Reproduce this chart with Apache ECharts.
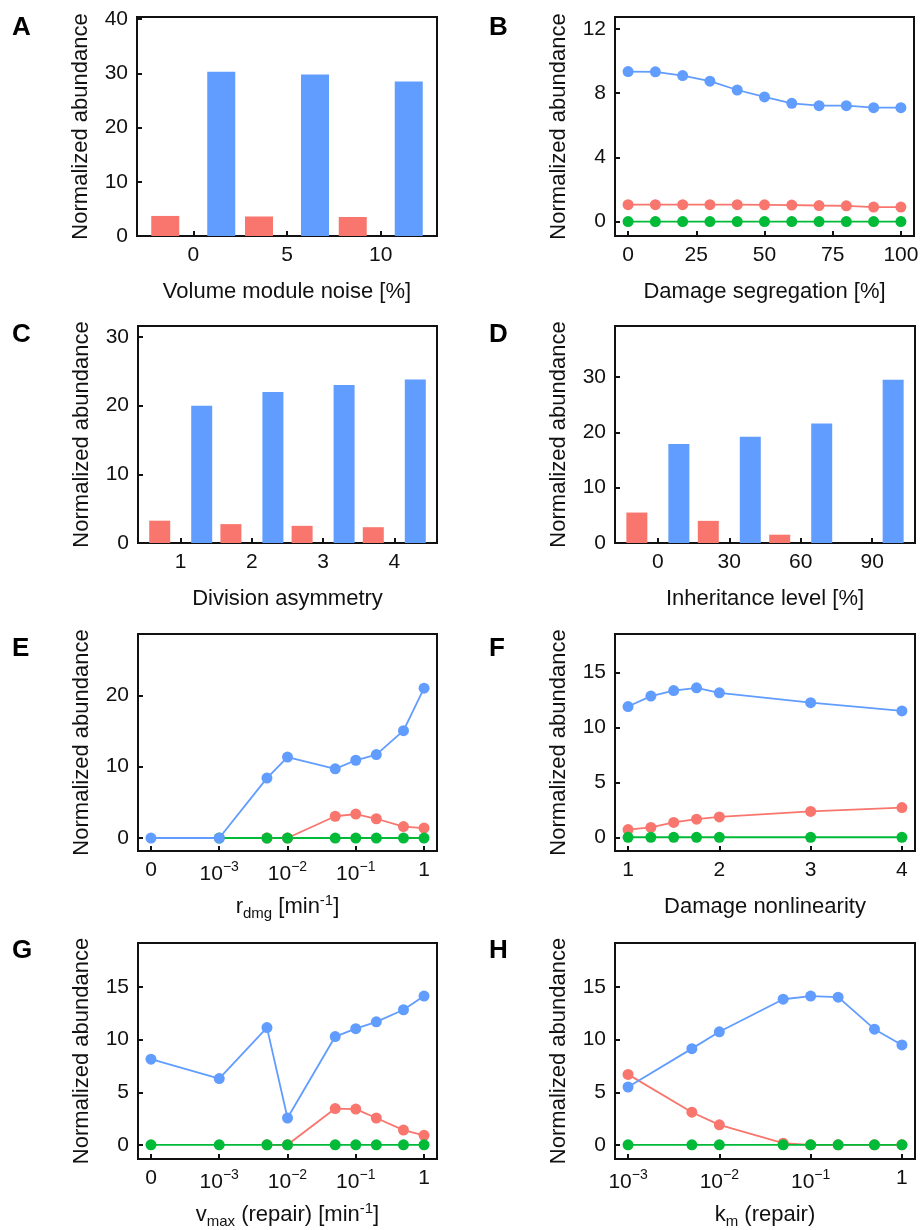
<!DOCTYPE html>
<html>
<head>
<meta charset="utf-8">
<script src="https://cdn.jsdelivr.net/npm/echarts@6/dist/echarts.min.js"></script>
<style>
html, body { margin: 0; padding: 0; background: #fff; }
#chart { width: 922px; height: 1230px; }
</style>
</head>
<body>
<div id="chart"></div>
<script>
var RED = '#F8766D', BLUE = '#619CFF', GREEN = '#00BA38';
var FONT = 'Liberation Sans';
var INK = '#111';

// A - volume module noise
var noiseLevels = [0, 5, 10];
var noiseRed = [3.7, 3.6, 3.5];
var noiseBlue = [30.3, 29.8, 28.5];
var noiseTicks = [0, 5, 10];

// B - damage segregation
var segregation = [0, 10, 20, 30, 40, 50, 60, 70, 80, 90, 100];
var segBlue = [9.35, 9.33, 9.1, 8.75, 8.2, 7.77, 7.37, 7.22, 7.22, 7.1, 7.1];
var segRed = [1.05, 1.05, 1.05, 1.05, 1.05, 1.04, 1.03, 1.0, 0.98, 0.9, 0.9];
var segGreen = [0, 0, 0, 0, 0, 0, 0, 0, 0, 0, 0];
var segTicks = [0, 25, 50, 75, 100];

// C - division asymmetry
var asymmetry = [1, 2, 3, 4];
var asymRed = [3.25, 2.75, 2.5, 2.3];
var asymBlue = [20.0, 22.0, 23.0, 23.8];

// D - inheritance level
var inheritance = [0, 30, 60, 90];
var inhRed = [5.5, 4.0, 1.5, 0];
var inhBlue = [17.9, 19.2, 21.6, 29.5];

// E - r_dmg
var rDmg = [0, 0.001, 0.005, 0.01, 0.05, 0.1, 0.2, 0.5, 1];
var rDmgBlue = [0, 0, 8.4, 11.35, 9.7, 10.9, 11.7, 15.05, 21.0];
var rDmgRed = [null, null, 0, 0, 3.05, 3.35, 2.7, 1.6, 1.4];
var rDmgGreen = [null, 0, 0, 0, 0, 0, 0, 0, 0];

// F - damage nonlinearity
var nonlin = [1, 1.25, 1.5, 1.75, 2, 3, 4];
var nonlinBlue = [11.9, 12.85, 13.35, 13.6, 13.15, 12.25, 11.5];
var nonlinRed = [0.7, 0.9, 1.35, 1.65, 1.85, 2.35, 2.7];
var nonlinGreen = [0, 0, 0, 0, 0, 0, 0];

// G - vmax (repair)
var vmax = [0, 0.001, 0.005, 0.01, 0.05, 0.1, 0.2, 0.5, 1];
var vmaxBlue = [8.15, 6.3, 11.15, 2.55, 10.3, 11.05, 11.7, 12.85, 14.15];
var vmaxRed = [null, null, 0, 0, 3.45, 3.4, 2.55, 1.4, 0.9];
var vmaxGreen = [0, 0, 0, 0, 0, 0, 0, 0, 0];

// H - km (repair)
var km = [0.001, 0.005, 0.01, 0.05, 0.1, 0.2, 0.5, 1];
var kmBlue = [5.5, 9.15, 10.75, 13.85, 14.15, 14.05, 11.0, 9.5];
var kmRed = [6.7, 3.1, 1.9, 0.15, 0, 0, 0, 0];
var kmGreen = [0, 0, 0, 0, 0, 0, 0, 0];

var logTicksZero = [-4, -3, -2, -1, 0];
var logTicks = [-3, -2, -1, 0];

// 0 is drawn one decade left of 10^-3
function logPos(v) { return v === 0 ? -4 : Math.log10(v); }
function logLabel(v) {
    if (v === -4) return '0';
    if (v === 0) return '1';
    return '{b|10}{s|\u2212' + (-v) + '}';
}

var tickRich = {
    b: { fontSize: 21, fontFamily: FONT, color: INK, lineHeight: 25, verticalAlign: 'bottom' },
    s: { fontSize: 14, fontFamily: FONT, color: INK, lineHeight: 14, verticalAlign: 'top' }
};
var nameRich = {
    sub: { fontSize: 15, fontFamily: FONT, color: INK, lineHeight: 15, verticalAlign: 'bottom' },
    sup: { fontSize: 15, fontFamily: FONT, color: INK, lineHeight: 15, verticalAlign: 'top' }
};

var grids = [], xAxes = [], yAxes = [], series = [];

function axis(min, max, ticks, fmt) {
    return {
        type: 'value', min: min, max: max,
        axisLine: { show: true, onZero: false, lineStyle: { color: INK, width: 2 } },
        axisTick: { show: true, inside: true, length: 5, customValues: ticks, lineStyle: { color: INK, width: 2 } },
        axisLabel: { customValues: ticks, formatter: fmt, color: INK, fontSize: 21, fontFamily: FONT, rich: tickRich },
        splitLine: { show: false }
    };
}

function addPanel(box, xr, xTicks, xFmt, xName, yr, yTicks, list) {
    var gi = grids.length;
    grids.push({ left: box[0], top: box[1], width: box[2], height: box[3],
        show: true, borderColor: INK, borderWidth: 2 });
    var xa = axis(xr[0], xr[1], xTicks, xFmt);
    xa.gridIndex = gi;
    xa.position = 'bottom';
    xa.axisLabel.margin = 9;
    xa.name = xName;
    xa.nameLocation = 'middle';
    xa.nameGap = 42;
    xa.nameTextStyle = { fontSize: 22, fontFamily: FONT, color: INK, lineHeight: 28, rich: nameRich };
    xAxes.push(xa);
    var ya = axis(yr[0], yr[1], yTicks, function (v) { return String(v); });
    ya.gridIndex = gi;
    ya.position = 'left';
    ya.axisLabel.margin = 9;
    ya.name = 'Normalized abundance';
    ya.nameLocation = 'middle';
    ya.nameGap = 45;
    ya.nameTextStyle = { fontSize: 22, fontFamily: FONT, color: INK };
    yAxes.push(ya);
    list.forEach(function (s) {
        s.xAxisIndex = gi;
        s.yAxisIndex = gi;
        series.push(s);
    });
}

function lineSeries(xs, ys, color, xf) {
    var data = [];
    for (var i = 0; i < xs.length; i++) {
        if (ys[i] === null) continue;
        data.push([xf ? xf(xs[i]) : xs[i], ys[i]]);
    }
    return { type: 'line', data: data, symbol: 'circle', symbolSize: 11, showSymbol: true,
        itemStyle: { color: color }, lineStyle: { color: color, width: 1.8 }, silent: true };
}

function barSeries(xs, ys, color, width) {
    return { type: 'bar', data: xs.map(function (x, i) { return [x, ys[i]]; }),
        barWidth: width, barGap: '100%', itemStyle: { color: color }, silent: true };
}

var plain = function (v) { return String(v); };

// A
addPanel([137, 17, 300, 219], [-3, 13], noiseTicks, plain, 'Volume module noise [%]',
    [0, 40.4], [0, 10, 20, 30, 40],
    [barSeries(noiseLevels, noiseRed, RED, 28), barSeries(noiseLevels, noiseBlue, BLUE, 28)]);
// B
addPanel([615, 17, 299, 219], [-4.8, 104.8], segTicks, plain, 'Damage segregation [%]',
    [-0.9, 12.75], [0, 4, 8, 12],
    [lineSeries(segregation, segRed, RED), lineSeries(segregation, segGreen, GREEN), lineSeries(segregation, segBlue, BLUE)]);
// C
addPanel([138, 326, 299, 217], [0.4, 4.6], asymmetry, plain, 'Division asymmetry',
    [0, 31.6], [0, 10, 20, 30],
    [barSeries(asymmetry, asymRed, RED, 21), barSeries(asymmetry, asymBlue, BLUE, 21)]);
// D
addPanel([615, 326, 300, 217], [-18, 108], inheritance, plain, 'Inheritance level [%]',
    [0, 39.2], [0, 10, 20, 30],
    [barSeries(inheritance, inhRed, RED, 21), barSeries(inheritance, inhBlue, BLUE, 21)]);
// E
addPanel([138, 634, 299, 217], [-4.19, 0.19], logTicksZero, logLabel, 'r{sub|dmg} [min{sup|-1}]',
    [-1.82, 28.6], [0, 10, 20],
    [lineSeries(rDmg, rDmgRed, RED, logPos), lineSeries(rDmg, rDmgGreen, GREEN, logPos), lineSeries(rDmg, rDmgBlue, BLUE, logPos)]);
// F
addPanel([615, 634, 300, 217], [0.857, 4.143], [1, 2, 3, 4], plain, 'Damage nonlinearity',
    [-1.25, 18.5], [0, 5, 10, 15],
    [lineSeries(nonlin, nonlinRed, RED), lineSeries(nonlin, nonlinGreen, GREEN), lineSeries(nonlin, nonlinBlue, BLUE)]);
// G
addPanel([138, 943, 299, 217], [-4.19, 0.19], logTicksZero, logLabel, 'v{sub|max} (repair) [min{sup|-1}]',
    [-1.35, 19.2], [0, 5, 10, 15],
    [lineSeries(vmax, vmaxRed, RED, logPos), lineSeries(vmax, vmaxGreen, GREEN, logPos), lineSeries(vmax, vmaxBlue, BLUE, logPos)]);
// H
addPanel([615, 943, 300, 217], [-3.143, 0.143], logTicks, logLabel, 'k{sub|m} (repair)',
    [-1.35, 19.2], [0, 5, 10, 15],
    [lineSeries(km, kmRed, RED, logPos), lineSeries(km, kmGreen, GREEN, logPos), lineSeries(km, kmBlue, BLUE, logPos)]);

var letters = ['A', 'B', 'C', 'D', 'E', 'F', 'G', 'H'];
var letterTops = [15, 15, 322, 322, 636, 636, 938, 938];
var graphics = letters.map(function (t, i) {
    return { type: 'text', left: i % 2 === 0 ? 12 : 489, top: letterTops[i],
        style: { text: t, fontSize: 26, fontWeight: 'bold', fontFamily: FONT, fill: '#000' } };
});

var chart = echarts.init(document.getElementById('chart'));
chart.setOption({
    animation: false,
    backgroundColor: '#fff',
    textStyle: { fontFamily: FONT },
    grid: grids,
    xAxis: xAxes,
    yAxis: yAxes,
    series: series,
    graphic: graphics
});
</script>
</body>
</html>
